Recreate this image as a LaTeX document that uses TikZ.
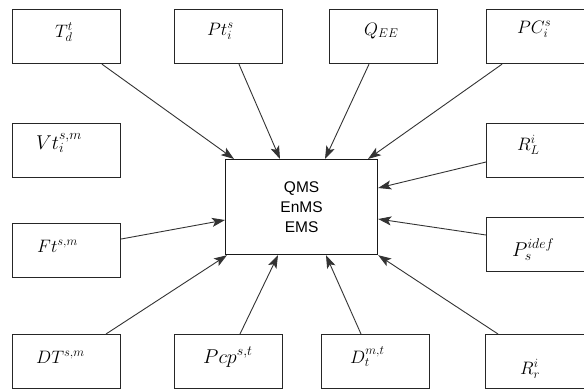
\documentclass[tikz,border=0pt]{standalone}
\usepackage{fix-cm}
\usepackage{fontspec}
\setsansfont{Liberation Sans}
\usetikzlibrary{arrows.meta,calc}

\begin{document}
\begin{tikzpicture}[x=1pt,y=-1pt,
  box/.style={draw=black!85,line width=1.2pt,rectangle,minimum width=108pt,
    minimum height=54pt,inner sep=0pt,anchor=north west},
  core/.style={draw=black!90,line width=1.2pt,rectangle,minimum width=152pt,
    minimum height=95pt,inner sep=0pt,anchor=north west,align=center,
    font=\sffamily\fontsize{15.5}{20}\selectfont},
  lbl/.style={anchor=base west,inner sep=0pt,font=\fontsize{18}{21}\selectfont},
  biglbl/.style={lbl,font=\fontsize{20}{24}\selectfont},
  feed/.style={draw=black!80,line width=0.9pt,
    -{Stealth[length=13pt,width=9pt,inset=3pt]}}]
\useasboundingbox (0,0) rectangle (584,389);

% central management system block
\node[core] (ems) at (225,159) {QMS\\EnMS\\EMS};

% input boxes
\node[box] (td)  at (12,9) {};
\node[box] (pt)  at (174,9) {};
\node[box] (qee) at (329,9) {};
\node[box] (pc)  at (486,9) {};
\node[box] (vt)  at (12,123) {};
\node[box] (ft)  at (12,223) {};
\node[box] (rl)  at (486,123) {};
\node[box] (ps)  at (486,217) {};
\node[box] (dt)  at (12,334) {};
\node[box] (pcp) at (174,334) {};
\node[box] (dd)  at (321,334) {};
\node[box] (rr)  at (485,334) {};

% box labels
\node[lbl] (td-l)  at ($(td.north west)+(43,28)$)  {$T_d^t$};
\node[lbl] (pt-l)  at ($(pt.north west)+(33,26)$)  {$Pt_i^s$};
\node[lbl] (qee-l) at ($(qee.north west)+(35,26)$) {$Q_{EE}$};
\node[lbl] (pc-l)  at ($(pc.north west)+(31,24)$)  {$PC_i^s$};
\node[biglbl] (vt-l) at ($(vt.north west)+(24,26)$) {$Vt_i^{s,m}$};
\node[lbl] (ft-l)  at ($(ft.north west)+(25,29)$)  {$Ft^{s,m}$};
\node[lbl] (rl-l)  at ($(rl.north west)+(31,27)$)  {$R_L^i$};
\node[biglbl] (ps-l) at ($(ps.north west)+(26,39)$) {$P_s^{idef}$};
\node[lbl] (dt-l)  at ($(dt.north west)+(24,29)$)  {$DT^{s,m}$};
\node[biglbl] (pcp-l) at ($(pcp.north west)+(29,29)$) {$Pcp^{s,t}$};
\node[lbl] (dd-l)  at ($(dd.north west)+(29,29)$)  {$D_t^{m,t}$};
\node[lbl] (rr-l) at ($(rr.north west)+(35,40)$) {$R_r^i$};

% connectors into the central block
\draw[feed] ($(td.south west)+(90,0)$)  -- ($(ems.north west)+(9,0)$);
\draw[feed] ($(pt.south west)+(65,0)$)  -- ($(ems.north west)+(55,0)$);
\draw[feed] ($(qee.south west)+(40,0)$) -- ($(ems.north west)+(100,0)$);
\draw[feed] ($(pc.south west)+(16,0)$)  -- ($(ems.north west)+(143,0)$);
\draw[feed] ($(rl.north west)+(0,39)$)  -- ($(ems.north east)+(0,29)$);
\draw[feed] ($(ps.north west)+(0,18)$)  -- ($(ems.north east)+(0,60)$);
\draw[feed] ($(ft.north east)+(0,16)$)  -- ($(ems.north west)+(0,61)$);
\draw[feed] ($(dt.north west)+(94,0)$)  -- ($(ems.south west)+(2,0)$);
\draw[feed] ($(pcp.north west)+(66,0)$) -- ($(ems.south west)+(53,0)$);
\draw[feed] ($(dd.north west)+(40,0)$)  -- ($(ems.south west)+(101,0)$);
\draw[feed] ($(rr.north west)+(13,0)$)  -- (ems.south east);
\end{tikzpicture}
\end{document}
